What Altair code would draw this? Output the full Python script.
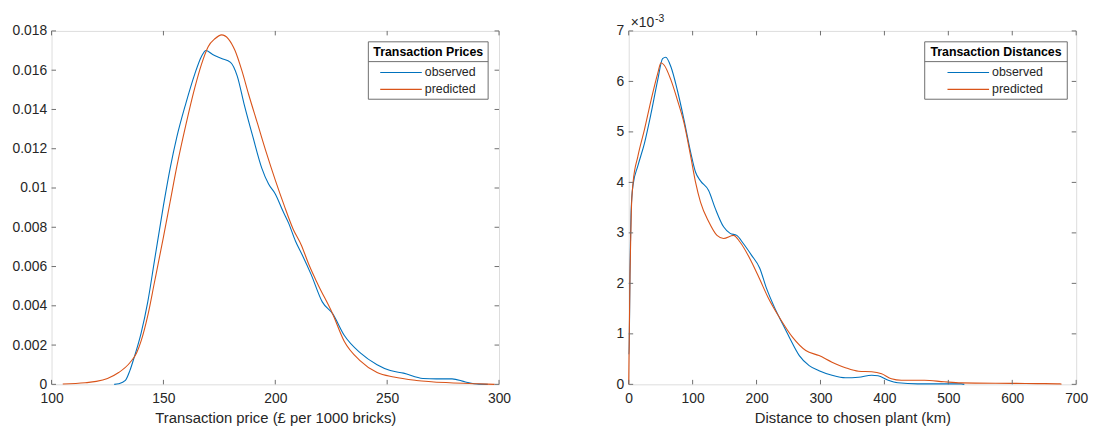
import altair as alt
import pandas as pd

# ---------------- data ----------------
series_names = ["observed", "predicted"]

# Left panel: Transaction prices (density)
price_obs_x = [128, 130, 133, 135, 137, 140, 143, 146, 150, 153, 156, 160, 164, 167, 169, 172,
               176, 180, 183, 186, 190, 194, 197, 200, 203.5, 206, 209, 212, 216, 221, 225.6,
               230.8, 238, 245.5, 251.4, 257.3, 266, 272, 279, 285, 291, 295]
price_obs_y = [0.0, 0.00003, 0.0002, 0.0007, 0.0014, 0.0026, 0.0042, 0.0063, 0.0091, 0.0110,
               0.0126, 0.0143, 0.0158, 0.0167, 0.0170, 0.0168, 0.0166, 0.0164, 0.0157, 0.0143,
               0.0126, 0.0110, 0.0102, 0.0097, 0.0088, 0.0082, 0.0073, 0.0066, 0.0056, 0.0042,
               0.0036, 0.0025, 0.0016, 0.0010, 0.0007, 0.00057, 0.0003, 0.00028, 0.00028,
               0.00012, 0.00001, 0.0]
price_pred_x = [105, 115, 120, 125, 130, 135, 138, 140, 143, 146, 150, 153, 156, 160, 164, 167,
                170, 173, 176, 179, 182, 185, 188, 192, 196, 200, 204, 208, 211.6, 215, 219,
                225.6, 230.8, 238, 245.5, 253, 263, 278, 290, 298]
price_pred_y = [0.00002, 0.00008, 0.00015, 0.0003, 0.0006, 0.0011, 0.0016, 0.0022, 0.0035,
                0.0052, 0.0075, 0.0093, 0.0111, 0.0132, 0.0151, 0.0163, 0.0172, 0.0176, 0.0178,
                0.0176, 0.0170, 0.0160, 0.0148, 0.0133, 0.0118, 0.0104, 0.0091, 0.0079, 0.0071,
                0.0061, 0.0051, 0.0036, 0.0022, 0.0012, 0.0006, 0.00037, 0.0002, 0.00008,
                0.00003, 0.0]

# Right panel: Transaction distances (density, in units of 1e-3)
dist_obs_x = [0, 0.5, 2, 4, 6.7, 14.4, 24.7, 35, 45.4, 53, 58, 66, 76, 86.5, 97, 104.6, 112.3,
              125, 135.5, 148.4, 158.7, 169, 179.3, 192, 205, 215.3, 228.2, 241, 251.4, 266.9,
              282.3, 297.7, 318, 339, 359.5, 380, 390, 406, 421, 452, 520, 525]
dist_obs_y = [0.6, 0.6, 2.2, 3.5, 3.94, 4.33, 4.78, 5.37, 6.03, 6.45, 6.48, 6.29, 5.83, 5.24,
              4.59, 4.2, 4.03, 3.84, 3.48, 3.12, 2.99, 2.95, 2.79, 2.56, 2.3, 1.91, 1.52, 1.19,
              0.93, 0.57, 0.37, 0.27, 0.18, 0.13, 0.14, 0.18, 0.17, 0.08, 0.03, 0.01, 0.01, 0.0]
dist_pred_x = [0, 2, 4, 6.7, 14.4, 24.7, 35, 45.4, 50.5, 55.6, 66, 76.2, 86.5, 96.9, 104.6,
               112.3, 125.2, 138.1, 148.4, 163.8, 174, 192, 205, 218, 236, 256.5, 277, 297.7,
               318, 339, 359.5, 380, 395.6, 411, 426.5, 462.6, 493.5, 520, 600, 640, 675, 677]
dist_pred_y = [0.0, 2.2, 3.4, 3.98, 4.52, 5.05, 5.63, 6.16, 6.37, 6.32, 6.03, 5.63, 5.18, 4.52,
               4.0, 3.61, 3.22, 2.95, 2.89, 2.95, 2.82, 2.43, 2.08, 1.72, 1.32, 0.93, 0.67, 0.57,
               0.44, 0.33, 0.26, 0.25, 0.21, 0.11, 0.08, 0.08, 0.05, 0.03, 0.02, 0.015, 0.01, 0.0]

price_ticks_x = [100, 150, 200, 250, 300]
price_ticks_y = [0, 0.002, 0.004, 0.006, 0.008, 0.01, 0.012, 0.014, 0.016, 0.018]
dist_ticks_x = [0, 100, 200, 300, 400, 500, 600, 700]
dist_ticks_y = [0, 1, 2, 3, 4, 5, 6, 7]

# ---------------- styling ----------------
W, H = 452, 357
BLUE, RED = "#0072BD", "#D95319"
TXT = "#262626"
FRAME = "#6e6e6e"
FONT = "Liberation Sans"
TICK = 4.5


def make_df(ox, oy, px, py):
    rows = [{"x": a, "y": b, "series": series_names[0]} for a, b in zip(ox, oy)]
    rows += [{"x": a, "y": b, "series": series_names[1]} for a, b in zip(px, py)]
    return pd.DataFrame(rows)


def panel(df, xdom, ydom, xticks, yticks, xtitle, yfmt, legend_title, box):
    xs = alt.Scale(domain=xdom, nice=False, zero=False)
    ys = alt.Scale(domain=ydom, nice=False, zero=False)
    x_axis = alt.Axis(values=xticks, ticks=False, tickSize=0, domain=False, grid=False,
                      labelFont=FONT, labelFontSize=14, labelColor=TXT, labelPadding=7,
                      labelFlush=False, title=xtitle, titleFont=FONT, titleFontSize=15,
                      titleFontWeight="normal", titleColor=TXT, titlePadding=6)
    y_axis = alt.Axis(values=yticks, ticks=False, tickSize=0, domain=False, grid=False,
                      labelFont=FONT, labelFontSize=14, labelColor=TXT, labelPadding=5,
                      labelFlush=False, format=yfmt, title=None)
    lines = alt.Chart(df).mark_line(strokeWidth=1.1, interpolate="monotone").encode(
        x=alt.X("x:Q", scale=xs, axis=x_axis, title=xtitle),
        y=alt.Y("y:Q", scale=ys, axis=y_axis, title=None),
        color=alt.Color("series:N", scale=alt.Scale(domain=series_names, range=[BLUE, RED]),
                        legend=None),
    )
    xt = pd.DataFrame({"t": xticks})
    yt = pd.DataFrame({"t": yticks})
    rule = dict(color=FRAME, strokeWidth=1)
    bt = alt.Chart(xt).mark_rule(**rule).encode(
        x=alt.X("t:Q", scale=xs, axis=x_axis, title=xtitle),
        y=alt.value(H), y2=alt.value(H - TICK))
    tt = alt.Chart(xt).mark_rule(**rule).encode(
        x=alt.X("t:Q", scale=xs, axis=x_axis, title=xtitle),
        y=alt.value(0), y2=alt.value(TICK))
    lt = alt.Chart(yt).mark_rule(**rule).encode(
        y=alt.Y("t:Q", scale=ys, axis=y_axis, title=None),
        x=alt.value(0), x2=alt.value(TICK))
    rt = alt.Chart(yt).mark_rule(**rule).encode(
        y=alt.Y("t:Q", scale=ys, axis=y_axis, title=None),
        x=alt.value(W), x2=alt.value(W - TICK))

    # legend box (decoration)
    one = alt.Data(values=[{"a": 1}])
    bx0, bx1, sx0, sx1, lx = box
    by0, by1, sep_y, ty, ey = 11, 69, 31, 21, [42, 59]
    layers = [lines, bt, tt, lt, rt]
    layers.append(alt.Chart(one).mark_rect(fill="white", stroke=FRAME, strokeWidth=1).encode(
        x=alt.value(bx0), x2=alt.value(bx1), y=alt.value(by0), y2=alt.value(by1)))
    layers.append(alt.Chart(one).mark_rule(**rule).encode(
        x=alt.value(bx0), x2=alt.value(bx1), y=alt.value(sep_y)))
    layers.append(alt.Chart(one).mark_text(
        text=legend_title, font=FONT, fontSize=12.5, fontWeight="bold", color="#000000",
        align="center", baseline="middle").encode(
        x=alt.value((bx0 + bx1) / 2), y=alt.value(ty)))
    for i, (name, col) in enumerate(zip(series_names, [BLUE, RED])):
        layers.append(alt.Chart(one).mark_rule(color=col, strokeWidth=1.1).encode(
            x=alt.value(sx0), x2=alt.value(sx1), y=alt.value(ey[i])))
        layers.append(alt.Chart(one).mark_text(
            text=name, font=FONT, fontSize=12.5, color=TXT, align="left",
            baseline="middle").encode(x=alt.value(lx), y=alt.value(ey[i])))
    return layers


left_layers = panel(make_df(price_obs_x, price_obs_y, price_pred_x, price_pred_y),
                    [100, 300], [0, 0.018], price_ticks_x, price_ticks_y,
                    "Transaction price (£ per 1000 bricks)", "~g", "Transaction Prices",
                    (320, 441, 332, 374, 377))
right_layers = panel(make_df(dist_obs_x, dist_obs_y, dist_pred_x, dist_pred_y),
                     [0, 700], [0, 7], dist_ticks_x, dist_ticks_y,
                     "Distance to chosen plant (km)", "d", "Transaction Distances",
                     (299, 443, 322, 364, 367))

one = alt.Data(values=[{"a": 1}])
right_layers.append(alt.Chart(one).mark_text(
    text="×10", font=FONT, fontSize=14, color=TXT, align="left", baseline="alphabetic").encode(
    x=alt.value(2), y=alt.value(-4)))
right_layers.append(alt.Chart(one).mark_text(
    text="-3", font=FONT, fontSize=10.5, color=TXT, align="left", baseline="alphabetic").encode(
    x=alt.value(26.5), y=alt.value(-9)))

left = alt.layer(*left_layers).properties(width=W, height=H)
right = alt.layer(*right_layers).properties(width=W, height=H)

chart = alt.hconcat(left, right, spacing=131).properties(
    bounds="flush",
    padding={"left": 3, "top": 3, "right": 5, "bottom": 5},
).configure_view(stroke=FRAME, strokeWidth=1).configure(background="white")

chart.save("out.html", embed_options={"renderer": "svg", "actions": False})
